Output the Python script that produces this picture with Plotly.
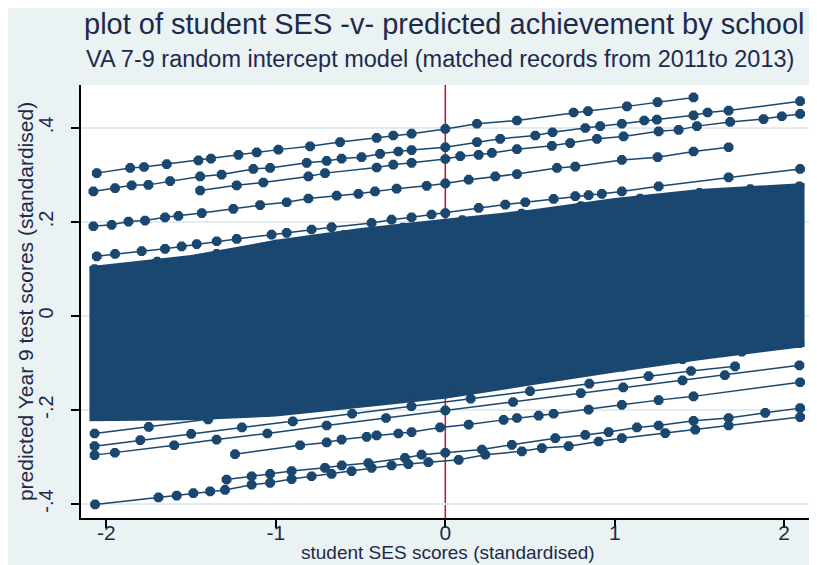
import plotly.graph_objects as go

# ---------------- data ----------------
x_ticks = [-2, -1, 0, 1, 2]
x_tick_labels = ["-2", "-1", "0", "1", "2"]
y_ticks = [-0.4, -0.2, 0, 0.2, 0.4]
y_tick_labels = ["-.4", "-.2", "0", ".2", ".4"]

# dense band of schools (outline of the solid mass)
band_x = [-2.10, -1.5, -1.0, -0.5, 0.0, 0.5, 1.0, 1.5, 2.12]
band_top = [0.106, 0.130, 0.162, 0.187, 0.207, 0.226, 0.251, 0.270, 0.283]
band_bottom = [-0.224, -0.222, -0.214, -0.195, -0.176, -0.148, -0.120, -0.094, -0.066]

# outlying schools (student SES, predicted score)
u1_x = [-2.057, -1.860, -1.778, -1.644, -1.457, -1.383, -1.221, -1.113, -0.985, -0.798, -0.621,
        -0.405, -0.307, -0.199, 0.0, 0.187, 0.423, 0.757, 0.842, 1.072, 1.253, 1.465]
u1_y = [0.304, 0.315, 0.317, 0.323, 0.331, 0.335, 0.343, 0.348, 0.354, 0.361, 0.370,
        0.379, 0.384, 0.388, 0.398, 0.409, 0.416, 0.433, 0.436, 0.446, 0.455, 0.465]

u2_x = [-2.077, -1.949, -1.851, -1.752, -1.624, -1.447, -1.320, -1.133, -1.034, -0.818, -0.700,
        -0.612, -0.494, -0.385, -0.277, -0.199, 0.0, 0.187, 0.324, 0.531, 0.633, 0.826, 0.914,
        1.042, 1.174, 1.249, 1.465, 1.548, 1.672, 2.094]
u2_y = [0.265, 0.272, 0.278, 0.279, 0.287, 0.297, 0.301, 0.313, 0.315, 0.326, 0.330,
        0.335, 0.338, 0.345, 0.350, 0.353, 0.359, 0.370, 0.377, 0.384, 0.391, 0.400, 0.404,
        0.409, 0.416, 0.418, 0.427, 0.433, 0.437, 0.457]

u3_x = [-1.447, -1.231, -1.074, -0.808, -0.710, -0.405, -0.307, -0.199, 0.0, 0.088, 0.197,
        0.275, 0.423, 0.629, 0.737, 0.895, 1.052, 1.259, 1.377, 1.485, 1.681, 1.878, 1.986, 2.094]
u3_y = [0.267, 0.278, 0.284, 0.297, 0.304, 0.316, 0.322, 0.326, 0.334, 0.340, 0.343,
        0.347, 0.355, 0.362, 0.368, 0.377, 0.382, 0.393, 0.396, 0.404, 0.413, 0.419, 0.425, 0.430]

u4_x = [-2.077, -1.969, -1.870, -1.772, -1.654, -1.575, -1.437, -1.251, -1.093, -0.936, -0.808,
        -0.641, -0.513, -0.415, -0.287, -0.110, 0.0, 0.138, 0.295, 0.423, 0.659, 0.767, 1.042,
        1.253, 1.465, 1.672]
u4_y = [0.191, 0.194, 0.201, 0.203, 0.210, 0.213, 0.219, 0.228, 0.236, 0.242, 0.250,
        0.256, 0.260, 0.265, 0.271, 0.277, 0.282, 0.290, 0.297, 0.302, 0.315, 0.318, 0.332,
        0.338, 0.350, 0.359]

u5_x = [-2.057, -1.949, -1.792, -1.654, -1.556, -1.467, -1.349, -1.231, -1.025, -0.936, -0.789,
        -0.671, -0.435, -0.317, -0.199, -0.081, 0.0, 0.197, 0.354, 0.472, 0.639, 0.767, 0.846,
        0.924, 1.042, 1.259, 1.672, 2.094]
u5_y = [0.127, 0.132, 0.138, 0.143, 0.148, 0.153, 0.159, 0.164, 0.173, 0.177, 0.184,
        0.189, 0.198, 0.205, 0.210, 0.216, 0.219, 0.230, 0.237, 0.242, 0.249, 0.255, 0.257,
        0.260, 0.265, 0.276, 0.295, 0.313]

edge_top_x = [-2.07, -1.7, -1.35, -1.0, -0.6, -0.25, 0.1, 0.45, 0.8, 1.15, 1.5, 1.8, 2.09]
edge_top_y = [0.100, 0.116, 0.132, 0.152, 0.172, 0.188, 0.204, 0.218, 0.234, 0.250, 0.262, 0.270, 0.276]

b1_x = [-2.07, -1.75, -1.4, -1.05, -0.7, -0.35, 0.0, 0.35, 0.7, 1.05, 1.4, 1.75, 2.09]
b1_y = [-0.250, -0.236, -0.220, -0.204, -0.188, -0.172, -0.156, -0.140, -0.124, -0.108, -0.092,
        -0.076, -0.058]

b2_x = [-2.07, -1.80, -1.50, -1.20, -0.90, -0.55, -0.20, 0.15, 0.50, 0.85, 1.20, 1.45, 1.71]
b2_y = [-0.277, -0.264, -0.251, -0.237, -0.224, -0.208, -0.192, -0.176, -0.160, -0.144, -0.128,
        -0.117, -0.107]

l1_x = [-2.07, -1.95, -1.60, -1.35, -1.05, -0.70, -0.35, 0.0, 0.40, 0.80, 1.05, 1.40, 1.65, 2.09]
l1_y = [-0.296, -0.291, -0.275, -0.263, -0.250, -0.233, -0.217, -0.201, -0.183, -0.164, -0.152,
        -0.137, -0.126, -0.105]

l2_x = [-1.241, -0.857, -0.700, -0.612, -0.464, -0.405, -0.277, -0.199, -0.031, 0.138, 0.344,
        0.423, 0.551, 0.639, 0.846, 1.042, 1.259, 1.465, 2.094]
l2_y = [-0.294, -0.275, -0.269, -0.263, -0.257, -0.254, -0.250, -0.247, -0.237, -0.231, -0.221,
        -0.217, -0.212, -0.208, -0.199, -0.189, -0.179, -0.171, -0.141]

l3_x = [-1.291, -1.143, -1.034, -0.907, -0.710, -0.611, -0.454, -0.238, -0.140, 0.0, 0.216,
        0.393, 0.649, 0.826, 0.964, 1.131, 1.259, 1.465, 1.672, 1.888, 2.094]
l3_y = [-0.348, -0.341, -0.336, -0.330, -0.323, -0.318, -0.313, -0.302, -0.295, -0.291, -0.284,
        -0.274, -0.260, -0.253, -0.247, -0.237, -0.233, -0.223, -0.217, -0.206, -0.196]

l4_x = [-2.067, -1.693, -1.585, -1.487, -1.388, -1.300, -1.143, -1.034, -0.907, -0.789, -0.671,
        -0.553, -0.435, -0.317, -0.218, -0.100, 0.079, 0.236, 0.452, 0.570, 0.728, 0.905, 1.042,
        1.298, 1.475, 1.672, 2.094]
l4_y = [-0.401, -0.386, -0.382, -0.377, -0.373, -0.370, -0.359, -0.355, -0.347, -0.341, -0.336,
        -0.330, -0.323, -0.318, -0.315, -0.311, -0.306, -0.295, -0.288, -0.281, -0.277, -0.267,
        -0.260, -0.249, -0.242, -0.233, -0.215]

# ---------------- styling ----------------
NAVY = "#1A476F"
RED = "#C8102E"
BG = "#EAF2F3"
GRID = "#E3ECEF"
FONT = "Liberation Sans, Arial, sans-serif"
TEXT = "#1E2A4A"

fig = go.Figure()

fig.add_trace(go.Scatter(
    x=band_x + band_x[::-1], y=band_top + band_bottom[::-1],
    fill="toself", fillcolor=NAVY, mode="lines", line=dict(width=0, color=NAVY),
    hoverinfo="skip", showlegend=False))

series = [
    (edge_top_x, edge_top_y), (b1_x, b1_y), (b2_x, b2_y),
    (u1_x, u1_y), (u2_x, u2_y), (u3_x, u3_y), (u4_x, u4_y), (u5_x, u5_y),
    (l1_x, l1_y), (l2_x, l2_y), (l3_x, l3_y), (l4_x, l4_y),
]
for sx, sy in series:
    fig.add_trace(go.Scatter(
        x=sx, y=sy, mode="lines+markers",
        line=dict(color=NAVY, width=1.5),
        marker=dict(symbol="octagon", size=10.5, color=NAVY, line=dict(width=0)),
        showlegend=False))

fig.add_shape(type="line", xref="x", yref="paper", x0=0, x1=0, y0=0, y1=1,
              line=dict(color=RED, width=1.5), layer="below")
fig.add_shape(type="line", xref="paper", yref="y", x0=0, x1=1, y0=0, y1=0,
              line=dict(color=RED, width=1.5), layer="below")

fig.update_layout(
    width=817, height=565,
    margin=dict(l=73, r=12, t=77, b=55),
    paper_bgcolor=BG, plot_bgcolor="white",
    font=dict(family=FONT, color=TEXT),
    showlegend=False,
    xaxis=dict(range=[-2.15, 2.17], tickvals=x_ticks, ticktext=x_tick_labels,
               showgrid=False, zeroline=False, showline=True, linecolor="black", linewidth=1.5,
               ticks="outside", ticklen=8, tickcolor="black", tickwidth=1.5,
               ticklabelstandoff=-13,
               tickfont=dict(size=21, color="#1E2A4A", family=FONT)),
    yaxis=dict(range=[-0.4298, 0.4915], tickvals=y_ticks, ticktext=y_tick_labels,
               showgrid=True, gridcolor=GRID, gridwidth=1.5, zeroline=False,
               showline=True, linecolor="black", linewidth=1.5,
               ticks="outside", ticklen=8, tickcolor="black", tickwidth=1.5,
               tickangle=-90, ticklabelstandoff=10,
               tickfont=dict(size=20, color="#1E2A4A", family=FONT)),
    annotations=[
        dict(text="plot of student SES -v- predicted achievement by school", xref="paper", yref="paper",
             x=0.497, y=1.141, xanchor="center", yanchor="middle", showarrow=False,
             font=dict(size=29, color=TEXT, family=FONT)),
        dict(text="VA 7-9 random intercept model (matched records from 2011to 2013)", xref="paper",
             yref="paper", x=0.49, y=1.060, xanchor="center", yanchor="middle", showarrow=False,
             font=dict(size=23.5, color=TEXT, family=FONT)),
        dict(text="student SES scores (standardised)", xref="paper", yref="paper",
             x=0.502, y=-0.080, xanchor="center", yanchor="middle", showarrow=False,
             font=dict(size=19, color=TEXT, family=FONT)),
        dict(text="predicted Year 9 test scores (standardised)", xref="paper", yref="paper",
             x=-0.0757, y=0.5, xanchor="center", yanchor="middle", showarrow=False, textangle=-90,
             font=dict(size=21, color=TEXT, family=FONT)),
    ],
)

fig.write_html("out.html")
